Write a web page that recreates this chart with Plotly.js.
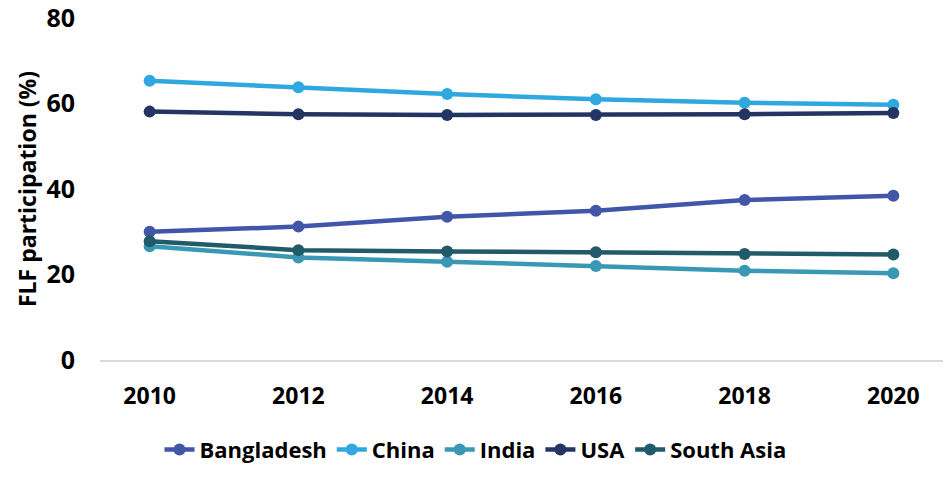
<!DOCTYPE html>
<html>
<head>
<meta charset="utf-8">
<script src="https://cdn.plot.ly/plotly-3.0.1.min.js"></script>
<style>html,body{margin:0;padding:0;background:#fff;}#chart{width:951px;height:477px;}</style>
</head>
<body>
<div id="chart"></div>
<script>
const years = ["2010","2012","2014","2016","2018","2020"];
const seriesNames = ["Bangladesh","China","India","USA","South Asia"];
const bangladesh = [30.0, 31.2, 33.5, 34.9, 37.4, 38.4];
const china = [65.3, 63.8, 62.2, 61.0, 60.2, 59.7];
const india = [26.6, 24.0, 23.0, 22.0, 20.9, 20.3];
const usa = [58.1, 57.5, 57.3, 57.3, 57.5, 57.8];
const southAsia = [27.8, 25.7, 25.4, 25.2, 24.8, 24.7];
const colors = ["#4156A9", "#2FA8DF", "#3A98B5", "#243463", "#215A69"];

const allValues = [bangladesh, china, india, usa, southAsia];
const traces = allValues.map((vals, i) => ({
  x: years, y: vals, name: seriesNames[i], type: "scatter", mode: "lines+markers",
  line: {color: colors[i], width: 4.5},
  marker: {color: colors[i], size: 12}
}));

const layout = {
  width: 951, height: 477,
  margin: {l: 100, r: 8, t: 18, b: 117},
  paper_bgcolor: "#fff", plot_bgcolor: "#fff",
  showlegend: true,
  font: {family: "Open Sans, sans-serif", color: "#000"},
  xaxis: {
    type: "category", showgrid: false, zeroline: false,
    showline: true, linecolor: "#d9d9d9", linewidth: 2,
    ticks: "", ticklabelstandoff: 14,
    tickfont: {family: "Open Sans, sans-serif", size: 23, color: "#000", weight: "bold"}
  },
  yaxis: {
    range: [0, 80], tickvals: [0, 20, 40, 60, 80], showgrid: false, zeroline: false,
    showline: false, ticks: "", ticklabelstandoff: 24, ticklabeloverflow: "allow",
    tickfont: {family: "Open Sans, sans-serif", size: 25, color: "#000", weight: "bold"},
    title: {text: "FLF participation (%)", standoff: 3, font: {family: "Open Sans, sans-serif", size: 23, color: "#000", weight: "bold"}}
  },
  legend: {
    orientation: "h", x: 0.5, xanchor: "center", xref: "container",
    y: 0.057, yanchor: "middle", yref: "container",
    font: {family: "Open Sans, sans-serif", size: 22, color: "#000", weight: "bold"},
    itemwidth: 30, tracegroupgap: 0
  }
};
Plotly.newPlot("chart", traces, layout, {displayModeBar: false, staticPlot: true});
</script>
</body>
</html>
